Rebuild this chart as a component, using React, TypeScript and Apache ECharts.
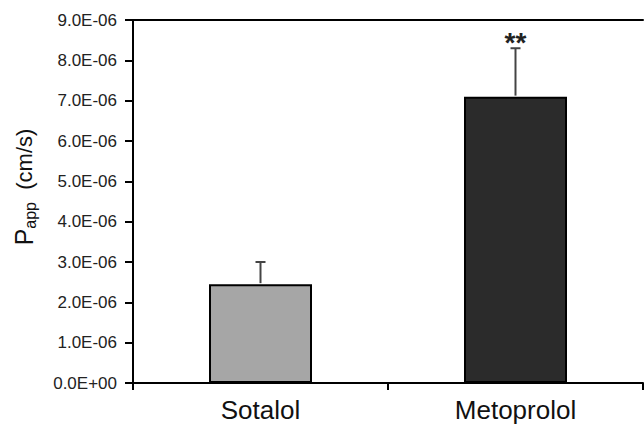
import React, { useEffect, useRef } from "react";
import * as echarts from "echarts";

const categories = ["Sotalol", "Metoprolol"];
const meanValues = [2.45e-6, 7.1e-6];
const upperValues = [3.0e-6, 8.3e-6];
const significance = ["", "**"];
const barColors = ["#a6a6a6", "#2b2b2b"];
const yMin = 0;
const yMax = 9e-6;
const yStep = 1e-6;

const FONT = "'Liberation Sans', Arial, sans-serif";

function fmtExp(v: number): string {
  if (Math.abs(v) < 1e-15) return "0.0E+00";
  const s = v.toExponential(1);
  const [m, e] = s.split("e");
  const sign = e[0] === "-" ? "-" : "+";
  const digits = e.replace(/^[+-]/, "").padStart(2, "0");
  return `${m}E${sign}${digits}`;
}

export default function App() {
  const ref = useRef<HTMLDivElement>(null);
  useEffect(() => {
    if (!ref.current) return;
    const chart = echarts.init(ref.current, null, { renderer: "svg" });
    chart.setOption({
      animation: false,
      backgroundColor: "#ffffff",
      grid: { left: 133, right: 1, top: 20, bottom: 42, containLabel: false },
      xAxis: [
        {
          type: "category",
          data: categories,
          position: "bottom",
          axisLine: { show: true, lineStyle: { color: "#000", width: 2 } },
          axisTick: { show: true, inside: false, length: 7, lineStyle: { color: "#000", width: 2 } },
          axisLabel: { color: "#111", fontSize: 26, fontFamily: FONT, margin: 14 },
          splitLine: { show: false },
        },
        {
          type: "category",
          data: categories,
          position: "top",
          axisLine: { show: true, lineStyle: { color: "#000", width: 2 } },
          axisTick: { show: false },
          axisLabel: { show: false },
          splitLine: { show: false },
        },
      ],
      yAxis: {
        type: "value",
        min: yMin,
        max: yMax,
        interval: yStep,
        axisLine: { show: true, lineStyle: { color: "#000", width: 2 } },
        axisTick: { show: true, inside: false, length: 8, lineStyle: { color: "#000", width: 2 } },
        axisLabel: { color: "#222", fontSize: 17, fontFamily: FONT, margin: 16, formatter: (v: number) => fmtExp(v) },
        splitLine: { show: false },
      },
      graphic: [
        {
          type: "text",
          x: 24,
          y: 187,
          rotation: Math.PI / 2,
          style: {
            text: "{p|P}{s|app}{n|  (cm/s)}",
            align: "center",
            verticalAlign: "middle",
            fill: "#111",
            font: `22px ${FONT}`,
            rich: {
              p: { fontSize: 25, fontFamily: FONT, lineHeight: 28, fill: "#111" },
              s: { fontSize: 16, fontFamily: FONT, verticalAlign: "bottom", lineHeight: 16, fill: "#111" },
              n: { fontSize: 22, fontFamily: FONT, lineHeight: 28, fill: "#111" },
            },
          },
        },
      ],
      series: [
        {
          type: "bar",
          barWidth: 103,
          data: meanValues.map((v, i) => ({
            value: v,
            itemStyle: { color: barColors[i], borderColor: "#000", borderWidth: 2 },
          })),
          z: 2,
        },
        {
          type: "custom",
          z: 3,
          data: categories.map((c, i) => [i, meanValues[i], upperValues[i]]),
          renderItem: (params: any, api: any) => {
            const idx = api.value(0);
            const base = api.coord([idx, api.value(1)]);
            const top = api.coord([idx, api.value(2)]);
            const capHalf = 5;
            const children: any[] = [
              {
                type: "line",
                shape: { x1: base[0], y1: base[1] - 1, x2: top[0], y2: top[1] },
                style: { stroke: "#444", lineWidth: 2 },
              },
              {
                type: "line",
                shape: { x1: top[0] - capHalf, y1: top[1], x2: top[0] + capHalf, y2: top[1] },
                style: { stroke: "#444", lineWidth: 2 },
              },
            ];
            const mark = significance[params.dataIndex];
            if (mark) {
              children.push({
                type: "text",
                x: top[0],
                y: top[1] - 6,
                style: {
                  text: mark,
                  align: "center",
                  verticalAlign: "middle",
                  font: `bold 28px ${FONT}`,
                  fill: "#222",
                },
              });
            }
            return { type: "group", children };
          },
        },
      ],
    });
    return () => chart.dispose();
  }, []);
  return <div ref={ref} style={{ width: 644, height: 425, position: "absolute", left: 0, top: 0 }} />;
}
